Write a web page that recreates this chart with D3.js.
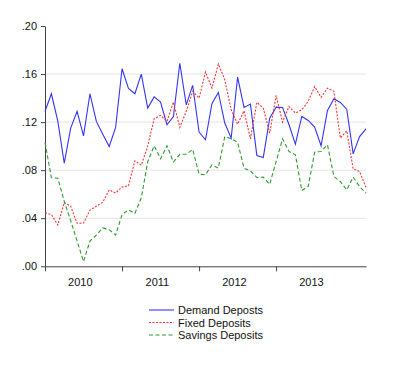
<!DOCTYPE html>
<html>
<head>
<meta charset="utf-8">
<script src="https://cdn.jsdelivr.net/npm/d3@7"></script>
<style>
  body { margin: 0; background: #fff; }
  svg { font-family: "Liberation Sans", Arial, sans-serif; }
</style>
</head>
<body>
<div id="chart"></div>
<script>
// monthly series, 2010M01 .. 2014M03
const demandDeposits = [0.129, 0.1436, 0.1206, 0.0858, 0.115, 0.129, 0.1086, 0.1436, 0.1206, 0.110, 0.0997, 0.1156,
  0.1644, 0.148, 0.1436, 0.160, 0.1317, 0.141, 0.1367, 0.1178, 0.1247, 0.169, 0.1344, 0.1506,
  0.1117, 0.1053, 0.1353, 0.1447, 0.1192, 0.1067, 0.1575, 0.1322, 0.135, 0.0922, 0.0906, 0.1233,
  0.1325, 0.1322, 0.118, 0.1017, 0.1247, 0.1214, 0.1158, 0.1003, 0.1297, 0.1394, 0.1364, 0.1308,
  0.0936, 0.108, 0.1144];
const fixedDeposits = [0.0445, 0.043, 0.0344, 0.053, 0.050, 0.0358, 0.036, 0.0468, 0.050, 0.0533, 0.0636, 0.061,
  0.066, 0.067, 0.0878, 0.0842, 0.100, 0.1228, 0.1256, 0.1206, 0.1367, 0.1156, 0.129, 0.1456,
  0.140, 0.1617, 0.1483, 0.1683, 0.1553, 0.1303, 0.1183, 0.1294, 0.1061, 0.1364, 0.1317, 0.1108,
  0.1422, 0.120, 0.133, 0.1275, 0.1303, 0.1372, 0.1497, 0.1406, 0.1483, 0.1456, 0.1067, 0.1128,
  0.0811, 0.0789, 0.0656];
const savingsDeposits = [0.103, 0.0737, 0.0733, 0.054, 0.038, 0.021, 0.004, 0.021, 0.026, 0.032, 0.0305, 0.026,
  0.043, 0.047, 0.044, 0.057, 0.087, 0.1003, 0.0895, 0.1003, 0.0868, 0.0932, 0.0932, 0.0973,
  0.0767, 0.0761, 0.0844, 0.0817, 0.108, 0.1061, 0.1033, 0.0817, 0.0794, 0.0739, 0.0742, 0.0683,
  0.0872, 0.1061, 0.0956, 0.0928, 0.0631, 0.0664, 0.095, 0.0956, 0.1011, 0.0747, 0.0706, 0.0636,
  0.0742, 0.0664, 0.0608];

const yearLabels = ["2010", "2011", "2012", "2013"];
const yTicks = [0, 0.04, 0.08, 0.12, 0.16, 0.20];
const yTickLabels = [".00", ".04", ".08", ".12", ".16", ".20"];

const seriesNames = ["Demand Deposts", "Fixed Deposits", "Savings Deposits"];

const width = 400;
const height = 368;

const svg = d3.select("#chart")
  .append("svg")
  .attr("width", width)
  .attr("height", height);

// Scales (x = month index)
const x = d3.scaleLinear()
  .domain([0, demandDeposits.length - 1])
  .range([45, 366]);

const y = d3.scaleLinear()
  .domain([0, 0.2])
  .range([266.3, 26]);

// Grid
svg.append("g")
  .selectAll("line")
  .data(yTicks.filter(d => d > 0 && d < 0.2))
  .join("line")
  .attr("x1", x.range()[0])
  .attr("x2", x.range()[1])
  .attr("y1", d => y(d))
  .attr("y2", d => y(d))
  .attr("stroke", "#e4e4e4")
  .attr("stroke-width", 1);

// Axes
const yAxis = svg.append("g")
  .attr("transform", `translate(${x.range()[0]},0)`)
  .call(d3.axisLeft(y)
    .tickValues(yTicks)
    .tickFormat((d, i) => yTickLabels[i])
    .tickSize(4)
    .tickSizeOuter(0)
    .tickPadding(4));

const xAxis = svg.append("g")
  .attr("transform", `translate(0,${y(0)})`)
  .call(d3.axisBottom(x)
    .tickValues(yearLabels.map((d, i) => i * 12))
    .tickFormat("")
    .tickSize(5)
    .tickSizeOuter(0));

[yAxis, xAxis].forEach(g => {
  g.select(".domain").attr("stroke", "#444");
  g.selectAll(".tick line").attr("stroke", "#444");
  g.selectAll("text").attr("font-size", "11px").attr("fill", "#111")
    .attr("font-family", "\"Liberation Sans\", Arial, sans-serif");
});

// Year labels centred over each year's months
svg.append("g")
  .selectAll("text")
  .data(yearLabels)
  .join("text")
  .attr("x", (d, i) => x(i * 12 + 5.5))
  .attr("y", 286)
  .attr("text-anchor", "middle")
  .attr("font-size", "11px")
  .attr("fill", "#111")
  .text(d => d);

// Lines
const styles = [
  { data: demandDeposits, color: "#3535f5", dash: null },
  { data: fixedDeposits, color: "#f53535", dash: "2,1.5" },
  { data: savingsDeposits, color: "#2e9a2e", dash: "4,2.5" }
];

const line = d3.line()
  .x((d, i) => x(i))
  .y(d => y(d));

styles.forEach(s => {
  svg.append("path")
    .datum(s.data)
    .attr("fill", "none")
    .attr("stroke", s.color)
    .attr("stroke-width", 1.1)
    .attr("stroke-dasharray", s.dash)
    .attr("d", line);
});

// Legend
const legend = svg.append("g");
seriesNames.forEach((name, i) => {
  const ly = 310 + i * 12.5;
  legend.append("line")
    .attr("x1", 149).attr("x2", 174)
    .attr("y1", ly).attr("y2", ly)
    .attr("stroke", styles[i].color)
    .attr("stroke-width", 1.1)
    .attr("stroke-dasharray", styles[i].dash);
  legend.append("text")
    .attr("x", 178)
    .attr("y", ly + 4)
    .attr("font-size", "11px")
    .attr("fill", "#111")
    .text(name);
});
</script>
</body>
</html>
